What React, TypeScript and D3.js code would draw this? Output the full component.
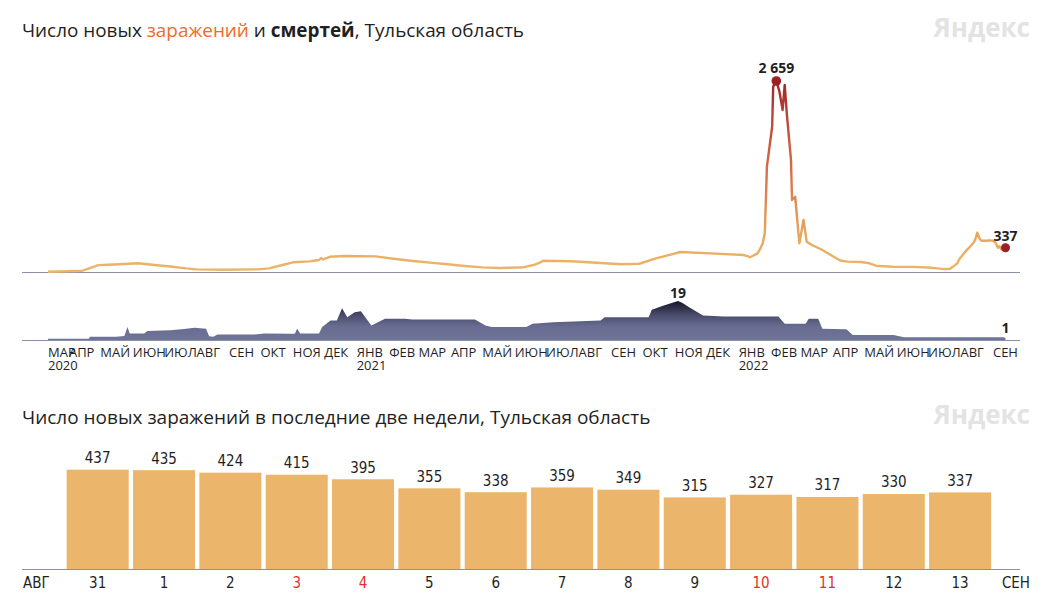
import React from 'react';
import * as d3 from 'd3';

const MONTHS = ['ЯНВ', 'ФЕВ', 'МАР', 'АПР', 'МАЙ', 'ИЮН', 'ИЮЛ', 'АВГ', 'СЕН', 'ОКТ', 'НОЯ', 'ДЕК'];

// daily new cases (sparse points)
const casesHistory: [string, number][] = [
  ['2020-03-12', 3], ['2020-04-14', 18], ['2020-04-19', 45], ['2020-04-29', 95],
  ['2020-05-14', 105], ['2020-06-06', 121], ['2020-06-22', 97], ['2020-07-09', 74],
  ['2020-07-22', 51], ['2020-08-01', 37], ['2020-08-27', 32], ['2020-09-29', 37],
  ['2020-10-09', 51], ['2020-10-22', 97], ['2020-11-01', 135], ['2020-11-17', 148],
  ['2020-11-26', 167], ['2020-11-28', 195], ['2020-11-30', 175], ['2020-12-07', 213],
  ['2020-12-20', 223], ['2021-01-19', 218], ['2021-02-07', 181], ['2021-02-24', 153],
  ['2021-03-12', 130], ['2021-03-29', 107], ['2021-04-14', 84], ['2021-05-01', 65],
  ['2021-05-17', 56], ['2021-06-06', 63], ['2021-06-09', 65], ['2021-06-19', 97],
  ['2021-06-25', 130], ['2021-06-28', 157], ['2021-07-25', 150], ['2021-09-11', 107],
  ['2021-09-28', 115], ['2021-10-14', 190], ['2021-10-30', 250], ['2021-11-06', 278],
  ['2021-12-05', 260], ['2022-01-06', 236], ['2022-01-11', 213], ['2022-01-12', 205],
  ['2022-01-19', 260], ['2022-01-21', 306], ['2022-01-24', 400], ['2022-01-26', 543],
  ['2022-01-28', 1466], ['2022-02-02', 2022], ['2022-02-03', 2580], ['2022-02-06', 2659],
  ['2022-02-09', 2510], ['2022-02-12', 2255], ['2022-02-14', 2603], ['2022-02-16', 2209],
  ['2022-02-20', 1559], ['2022-02-21', 1002], ['2022-02-24', 1048], ['2022-02-28', 400],
  ['2022-03-04', 724], ['2022-03-07', 422], ['2022-03-12', 376], ['2022-03-22', 306],
  ['2022-04-01', 220], ['2022-04-08', 160], ['2022-04-15', 144], ['2022-04-28', 140],
  ['2022-05-06', 121], ['2022-05-12', 88], ['2022-05-28', 74], ['2022-06-15', 72],
  ['2022-07-01', 62], ['2022-07-10', 50], ['2022-07-16', 40], ['2022-07-22', 45],
  ['2022-07-25', 75], ['2022-07-29', 121], ['2022-07-31', 180], ['2022-08-03', 237],
  ['2022-08-06', 290], ['2022-08-10', 352], ['2022-08-13', 400], ['2022-08-15', 445],
  ['2022-08-17', 547], ['2022-08-19', 470], ['2022-08-21', 436], ['2022-08-26', 436],
  ['2022-08-29', 440],
];

// daily deaths
const deaths: [string, number][] = [
  ['2020-03-12', 0.6], ['2020-04-20', 0.6], ['2020-04-21', 1.6], ['2020-05-16', 1.6],
  ['2020-05-24', 2], ['2020-05-27', 6.3], ['2020-05-29', 3.2], ['2020-06-12', 3.2],
  ['2020-06-15', 4.4], ['2020-07-07', 4.8], ['2020-07-20', 5.4], ['2020-07-30', 6],
  ['2020-08-10', 5.5], ['2020-08-13', 1.8], ['2020-08-17', 1.6], ['2020-08-21', 2.7],
  ['2020-09-25', 2.7], ['2020-10-05', 3.2], ['2020-11-01', 3], ['2020-11-03', 3.2],
  ['2020-11-05', 5.5], ['2020-11-08', 3.2], ['2020-11-26', 3.2], ['2020-11-29', 6.3],
  ['2020-12-07', 9.5], ['2020-12-13', 9.5], ['2020-12-18', 15.5], ['2020-12-23', 11.1],
  ['2020-12-30', 13.5], ['2021-01-05', 14], ['2021-01-08', 11.9], ['2021-01-15', 7.1],
  ['2021-01-28', 10.3], ['2021-02-16', 10.3], ['2021-02-23', 10], ['2021-04-24', 10],
  ['2021-05-04', 7.1], ['2021-05-10', 6.3], ['2021-06-12', 6.3], ['2021-06-18', 7.9],
  ['2021-07-08', 8.7], ['2021-08-22', 9.5], ['2021-08-26', 11.1], ['2021-10-07', 11.1],
  ['2021-10-10', 14.7], ['2021-10-20', 16.6], ['2021-11-04', 19], ['2021-11-08', 18.2],
  ['2021-11-15', 15.8], ['2021-11-28', 11.9], ['2021-12-18', 11.5], ['2022-02-08', 11.5],
  ['2022-02-14', 7.9], ['2022-03-06', 7.9], ['2022-03-09', 10.3], ['2022-03-18', 10.3],
  ['2022-03-22', 5.5], ['2022-04-14', 5.2], ['2022-04-20', 2.4], ['2022-05-29', 2.4],
  ['2022-06-08', 1.3], ['2022-09-11', 1.3], ['2022-09-13', 1],
];

// last two weeks
const lastDates = [
  '2022-08-31', '2022-09-01', '2022-09-02', '2022-09-03', '2022-09-04', '2022-09-05', '2022-09-06',
  '2022-09-07', '2022-09-08', '2022-09-09', '2022-09-10', '2022-09-11', '2022-09-12', '2022-09-13',
];
const lastValues = [437, 435, 424, 415, 395, 355, 338, 359, 349, 315, 327, 317, 330, 337];

const parse = d3.utcParse('%Y-%m-%d');
type P = { date: Date; v: number };

const fmt = d3.formatLocale({ decimal: ',', thousands: '\u00a0', grouping: [3], currency: ['', ''] }).format(',d');

const FONT = "'Open Sans', 'Noto Sans', sans-serif";
const NARROW = "'Liberation Sans Narrow', 'DejaVu Sans Condensed', 'Open Sans', sans-serif";
const AXIS = '#8a90a8';
const TXT = '#1f1f24';

export default function App() {
  const caseData: P[] = [
    ...casesHistory,
    ...lastDates.map((d, i) => [d, lastValues[i]] as [string, number]),
  ].map(([d, v]) => ({ date: parse(d) as Date, v }));
  const deathData: P[] = deaths.map(([d, v]) => ({ date: parse(d) as Date, v }));

  const start = parse('2020-03-12') as Date;
  const end = parse('2022-09-13') as Date;
  const x = d3.scaleUtc().domain([start, end]).range([48, 1005.5]);
  const yC = d3.scaleLinear().domain([0, 2659]).range([272, 81]);
  const yD = d3.scaleLinear().domain([0, 19]).range([340, 301]);

  const line = d3.line<P>().x((d) => x(d.date)).y((d) => yC(d.v));
  const area = d3.area<P>().x((d) => x(d.date)).y0(yD(0)).y1((d) => yD(d.v));

  const peak = caseData.reduce((a, b) => (b.v > a.v ? b : a));
  const lastC = caseData[caseData.length - 1];
  const peakD = deathData.reduce((a, b) => (b.v > a.v ? b : a));
  const lastD = deathData[deathData.length - 1];

  const months = d3.utcMonth.range(parse('2020-03-01') as Date, parse('2022-09-02') as Date);

  // bar chart
  const xb = d3.scaleBand<string>().domain(lastDates).range([64.5, 993.3]).paddingInner(0.065).paddingOuter(0.0325);
  const yb = d3.scaleLinear().domain([0, 437]).range([569, 469.7]);

  return (
    <svg width={1053} height={612} style={{ position: 'absolute', left: 0, top: 0 }} fontFamily={FONT}>
      <defs>
        <linearGradient id="caseGrad" gradientUnits="userSpaceOnUse" x1={0} x2={0} y1={yC(0)} y2={yC(2659)}>
          <stop offset="0" stopColor="#edb56a" />
          <stop offset="0.2" stopColor="#e8a65d" />
          <stop offset="0.5" stopColor="#d8734a" />
          <stop offset="0.8" stopColor="#bd4636" />
          <stop offset="1" stopColor="#a0252a" />
        </linearGradient>
        <linearGradient id="deathGrad" gradientUnits="userSpaceOnUse" x1={0} x2={0} y1={yD(0)} y2={yD(19)}>
          <stop offset="0" stopColor="#6f7499" />
          <stop offset="0.35" stopColor="#686c91" />
          <stop offset="0.65" stopColor="#474a69" />
          <stop offset="1" stopColor="#15162a" />
        </linearGradient>
      </defs>

      {/* titles */}
      <text x={22} y={37} fontSize={18.9} fill={TXT}>
        <tspan>Число новых </tspan>
        <tspan fill="#f26b2c">заражений</tspan>
        <tspan> и </tspan>
        <tspan fontWeight="bold">смертей</tspan>
        <tspan>, Тульская область</tspan>
      </text>
      <text x={1030} y={37} fontSize={26} fontWeight="bold" fill="#e3e3e3" textAnchor="end">Яндекс</text>

      {/* cases line */}
      <line x1={22} x2={1020} y1={272.5} y2={272.5} stroke={AXIS} strokeWidth={1.2} />
      <path d={line(caseData) || ''} fill="none" stroke="url(#caseGrad)" strokeWidth={2.4} strokeLinejoin="round" />
      <circle cx={x(peak.date)} cy={yC(peak.v)} r={4.8} fill="#9c2024" />
      <text x={x(peak.date)} y={73} fontSize={14} fontWeight="bold" fill={TXT} textAnchor="middle">{fmt(peak.v)}</text>
      <circle cx={x(lastC.date)} cy={yC(lastC.v)} r={4.5} fill="#9b2226" />
      <text x={x(lastC.date)} y={240.5} fontSize={14} fontWeight="bold" fill={TXT} textAnchor="middle">{fmt(lastC.v)}</text>

      {/* deaths area */}
      <path d={area(deathData) || ''} fill="url(#deathGrad)" />
      <line x1={22} x2={1020} y1={340.5} y2={340.5} stroke={AXIS} strokeWidth={1.2} />
      <text x={x(peakD.date)} y={298} fontSize={14} fontWeight="bold" fill={TXT} textAnchor="middle">{fmt(peakD.v)}</text>
      <text x={x(lastD.date)} y={333} fontSize={14} fontWeight="bold" fill={TXT} textAnchor="middle">{fmt(lastD.v)}</text>

      {/* month axis */}
      {months.map((m, i) => {
        const mx = Math.max(x(m), x(start));
        const mi = m.getUTCMonth();
        return (
          <g key={i}>
            <text x={mx} y={356.7} fontSize={13} fill={TXT}>{MONTHS[mi]}</text>
            {(i === 0 || mi === 0) && (
              <text x={mx} y={370} fontSize={13} fill={TXT}>{m.getUTCFullYear()}</text>
            )}
          </g>
        );
      })}

      {/* second chart */}
      <text x={22} y={424} fontSize={19} fill={TXT}>Число новых заражений в последние две недели, Тульская область</text>
      <text x={1030} y={424} fontSize={26} fontWeight="bold" fill="#e3e3e3" textAnchor="end">Яндекс</text>

      {lastDates.map((d, i) => {
        const v = lastValues[i];
        const bx = xb(d) as number;
        return (
          <g key={d}>
            <rect x={bx} y={yb(v)} width={xb.bandwidth()} height={yb(0) - yb(v)} fill="#ebb66c" />
            <text x={bx + xb.bandwidth() / 2} y={yb(v) - 6.6} fontSize={15} fontFamily={NARROW} fill={TXT} textAnchor="middle">{v}</text>
          </g>
        );
      })}
      <line x1={22} x2={1020} y1={569.5} y2={569.5} stroke={AXIS} strokeWidth={1.2} />
      <text x={23} y={588} fontSize={15} fontFamily={NARROW} fill={TXT}>АВГ</text>
      <text x={1030} y={588} fontSize={15} fontFamily={NARROW} fill={TXT} textAnchor="end">СЕН</text>
      {lastDates.map((d) => {
        const dt = parse(d) as Date;
        const wd = dt.getUTCDay();
        const weekend = wd === 0 || wd === 6;
        return (
          <text key={'l' + d} x={(xb(d) as number) + xb.bandwidth() / 2} y={588} fontSize={15} fontFamily={NARROW}
            fill={weekend ? '#e0322b' : TXT} textAnchor="middle">{dt.getUTCDate()}</text>
        );
      })}
    </svg>
  );
}
